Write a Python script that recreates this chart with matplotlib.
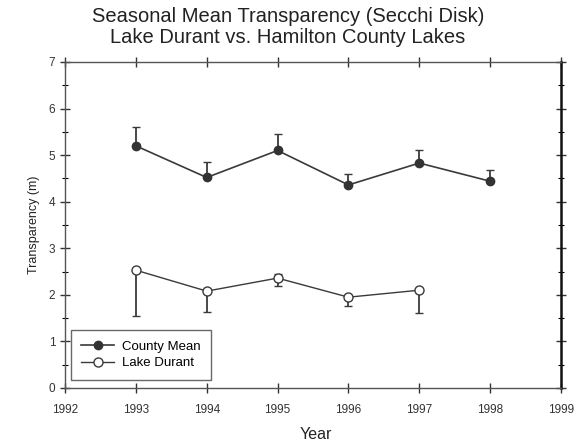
import numpy as np
import matplotlib.pyplot as plt
from matplotlib.ticker import MultipleLocator

plt.rcParams['font.family'] = ['Liberation Sans', 'DejaVu Sans']

# County mean transparency (m), upper error bar only
county_years = [1993, 1994, 1995, 1996, 1997, 1998]
county_mean = [5.20, 4.52, 5.10, 4.36, 4.83, 4.44]
county_err_up = [0.41, 0.33, 0.35, 0.24, 0.28, 0.24]

# Lake Durant transparency (m), lower error bar (1995 both sides)
durant_years = [1993, 1994, 1995, 1996, 1997]
durant_mean = [2.53, 2.08, 2.36, 1.95, 2.10]
durant_err_down = [0.98, 0.45, 0.17, 0.19, 0.50]
durant_err_up = [0.0, 0.0, 0.08, 0.0, 0.0]

x_ticks = [1992, 1993, 1994, 1995, 1996, 1997, 1998, 1999]
y_ticks = [0, 1, 2, 3, 4, 5, 6, 7]

line_col = '#3a3a3a'

fig = plt.figure(figsize=(5.82, 4.45), dpi=100)
ax = fig.add_axes([65 / 582, 1 - 388 / 445, (561 - 65) / 582, (388 - 62) / 445])

# error bars
ax.errorbar(county_years, county_mean,
            yerr=[np.zeros(len(county_mean)), county_err_up],
            fmt='none', ecolor=line_col, elinewidth=1.3, capsize=3, capthick=1.0)
ax.errorbar(durant_years, durant_mean,
            yerr=[durant_err_down, durant_err_up],
            fmt='none', ecolor=line_col, elinewidth=1.3, capsize=3, capthick=1.0)

ax.plot(county_years, county_mean, '-o', color=line_col, lw=1.2,
        markersize=6, markerfacecolor='#333333', markeredgecolor='#333333',
        label='County Mean')
ax.plot(durant_years, durant_mean, '-o', color=line_col, lw=1.0,
        markersize=6.5, markerfacecolor='white', markeredgecolor=line_col,
        label='Lake Durant')

ax.set_xlim(1992, 1999)
ax.set_ylim(0, 7)
ax.set_xticks(x_ticks)
ax.set_yticks(y_ticks)
ax.yaxis.set_minor_locator(MultipleLocator(0.5))
ax.tick_params(axis='both', which='major', direction='inout', length=7,
               width=1, labelsize=8.5, colors='#333333', top=True, right=True)
ax.tick_params(axis='both', which='minor', direction='inout', length=4,
               width=0.8, top=True, right=True)
ax.tick_params(axis='x', pad=8)

for side in ['left', 'bottom', 'top']:
    ax.spines[side].set_color('#555555')
    ax.spines[side].set_linewidth(1.0)
ax.spines['right'].set_color('#111111')
ax.spines['right'].set_linewidth(1.8)

ax.set_xlabel('Year', fontsize=11.5, color='#222222')
ax.set_ylabel('Transparency (m)', fontsize=9, color='#222222', labelpad=6)
ax.xaxis.set_label_coords(0.506, -0.12)

fig.text(0.495, 0.94, 'Seasonal Mean Transparency (Secchi Disk)\nLake Durant vs. Hamilton County Lakes',
         ha='center', va='center', fontsize=14.5, color='#222222', linespacing=1.15)

leg = ax.legend(loc='lower left', fontsize=9.5, frameon=True, fancybox=False,
                edgecolor='#444444', borderpad=0.8, handlelength=2.5,
                bbox_to_anchor=(-0.002, 0.005), labelspacing=0.3, handletextpad=0.6)
leg.get_frame().set_linewidth(1.0)

fig.savefig('out.png', dpi=100)
